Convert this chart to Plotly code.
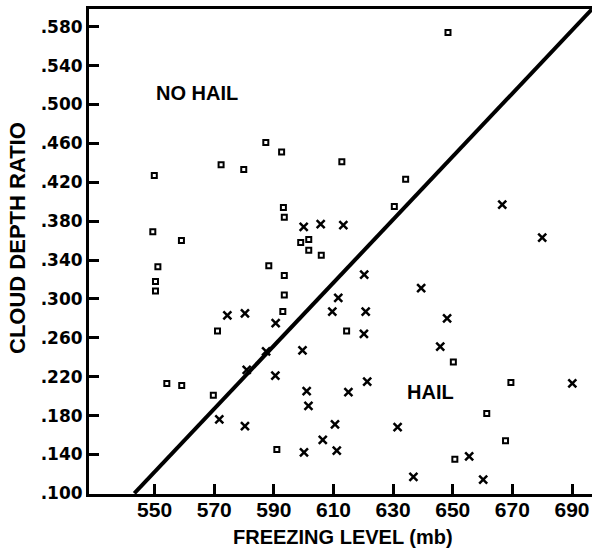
import plotly.graph_objects as go

# ===================== data =====================
# no hail (squares): freezing level (mb), cloud depth ratio
no_hail_level = [648.4, 549.9, 572.3, 579.9, 587.3, 592.6, 612.8, 634.2, 549.4, 559.0,
                 593.2, 593.5, 599.0, 601.7, 601.7, 605.9, 551.1, 588.3, 593.5, 550.3,
                 550.3, 593.5, 593.0, 571.1, 614.4, 630.4, 650.2, 554.1, 559.1, 569.7,
                 591.0, 669.5, 661.4, 667.7, 650.7]
no_hail_ratio = [0.574, 0.427, 0.438, 0.433, 0.461, 0.451, 0.441, 0.423, 0.369, 0.360,
                 0.394, 0.384, 0.358, 0.361, 0.350, 0.345, 0.333, 0.334, 0.324, 0.318,
                 0.308, 0.304, 0.287, 0.267, 0.267, 0.395, 0.235, 0.213, 0.211, 0.201,
                 0.145, 0.214, 0.182, 0.154, 0.135]

# hail (x)
hail_level = [600.0, 605.7, 613.3, 611.6, 609.6, 574.4, 580.3, 590.6, 599.6, 587.4,
              580.9, 590.5, 666.6, 680.0, 620.3, 639.4, 620.8, 648.1, 620.2, 645.8,
              621.3, 601.0, 601.6, 571.7, 580.3, 610.5, 606.4, 600.1, 611.1, 615.0,
              690.1, 631.5, 655.5, 636.8, 660.2]
hail_ratio = [0.374, 0.377, 0.376, 0.301, 0.287, 0.283, 0.285, 0.275, 0.247, 0.246,
              0.227, 0.221, 0.397, 0.363, 0.325, 0.311, 0.287, 0.280, 0.264, 0.251,
              0.215, 0.205, 0.190, 0.176, 0.169, 0.171, 0.155, 0.142, 0.144, 0.204,
              0.213, 0.168, 0.138, 0.117, 0.114]

# separating line
line_level = [543.2, 696.7]
line_ratio = [0.100, 0.598]

x_ticks = [550, 570, 590, 610, 630, 650, 670, 690]
y_ticks = [0.100, 0.140, 0.180, 0.220, 0.260, 0.300, 0.340, 0.380,
           0.420, 0.460, 0.500, 0.540, 0.580]
y_tick_text = [f"{v:.3f}"[1:] for v in y_ticks]

fig = go.Figure()
fig.add_trace(go.Scatter(x=line_level, y=line_ratio, mode="lines",
                         line=dict(color="black", width=4), showlegend=False))
fig.add_trace(go.Scatter(x=no_hail_level, y=no_hail_ratio, mode="markers",
                         marker=dict(symbol="square-open", size=5, color="black",
                                     line=dict(width=2, color="black")),
                         showlegend=False))
fig.add_trace(go.Scatter(x=hail_level, y=hail_ratio, mode="markers",
                         marker=dict(symbol="x-thin-open", size=8, color="black",
                                     line=dict(width=2.5, color="black")),
                         showlegend=False))

label_font = dict(family="Liberation Sans", size=20, color="black", weight="bold")
fig.add_annotation(x=564.2, y=0.512, text="NO HAIL", showarrow=False, font=label_font)
fig.add_annotation(x=642.5, y=0.204, text="HAIL", showarrow=False, font=label_font)

# axis titles
fig.add_annotation(x=0.505, y=-0.089, xref="paper", yref="paper",
                   xanchor="center", yanchor="middle",
                   text="FREEZING LEVEL (mb)", showarrow=False, font=label_font)
fig.add_annotation(x=-0.141, y=0.528, xref="paper", yref="paper",
                   xanchor="center", yanchor="middle",
                   text="CLOUD DEPTH RATIO", showarrow=False, textangle=-90,
                   font=dict(family="Liberation Sans", size=22, color="black",
                             weight="bold"))

fig.update_xaxes(range=[528.0, 696.7], tickvals=x_ticks, ticks="inside", ticklen=10,
                 tickwidth=3, tickcolor="black", showline=True, linewidth=3,
                 linecolor="black", mirror=True, showgrid=False, zeroline=False,
                 automargin=False, ticklabelstandoff=-5,
                 tickfont=dict(family="Liberation Sans", size=21, color="black",
                               weight="bold"))
fig.update_yaxes(range=[0.0993, 0.5982], tickvals=y_ticks, ticktext=y_tick_text,
                 ticks="inside", ticklen=10, tickwidth=3, tickcolor="black",
                 showline=True, linewidth=3, linecolor="black", showgrid=False,
                 zeroline=False, automargin=False,
                 tickfont=dict(family="DejaVu Sans", size=17, color="black",
                               weight="bold"))

fig.update_layout(width=594, height=552, margin=dict(l=89, r=2, t=9, b=58),
                  plot_bgcolor="white", paper_bgcolor="white")

# drop the default page margin so the figure sits at the window's corner
fig.write_html("out.html", config={"displayModeBar": False},
               post_script="document.body.style.margin='0';"
                           "document.body.style.overflow='hidden';")
